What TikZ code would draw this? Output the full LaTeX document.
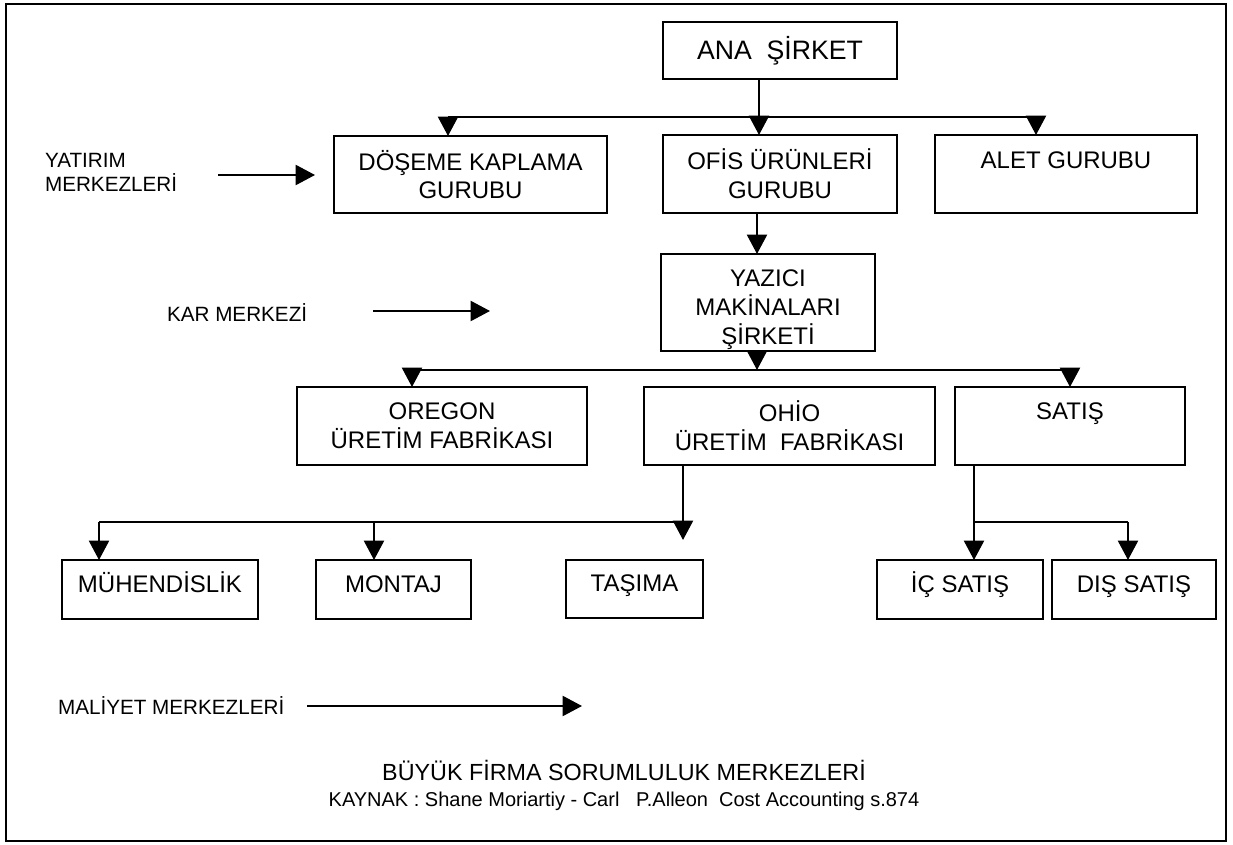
\documentclass[tikz,border=0pt]{standalone}
\usepackage{fontspec}
\setmainfont{Liberation Sans}
\usetikzlibrary{arrows.meta}
\begin{document}
\begin{tikzpicture}[x=0.75pt,y=-0.75pt,
  line width=1.6pt,
  box/.style={draw, rectangle, inner sep=0pt, outer sep=0pt, align=center,
    font=\fontsize{18}{21.5}\selectfont},
  sz/.style 2 args={minimum width=#1*0.75pt, minimum height=#2*0.75pt},
  oneline/.style={text height=13pt, text depth=9pt},
  link/.style={line width=1.6pt},
  arr/.style={link, -{Triangle[length=14.5pt,width=15pt]}},
  lbl/.style={inner sep=0pt, align=left, font=\fontsize{15.5}{18}\selectfont},
  caption/.style={inner sep=0pt, font=\fontsize{17.5}{21}\selectfont}]

\useasboundingbox (0,0) rectangle (1233,845);
% outer frame
\draw (6,4) rectangle (1226,841);

% organisation boxes
\node[box, sz={234}{57}, font=\fontsize{20}{24}\selectfont] (ana) at (780,50.5) {ANA\ \ ŞİRKET};
\node[box, sz={273}{77}] (dose) at (470.5,174.5) {DÖŞEME KAPLAMA\\GURUBU};
\node[box, sz={234}{78}] (ofis) at (780,174) {OFİS ÜRÜNLERİ\\GURUBU};
\node[box, sz={262}{78}] (alet) at (1066,174) {\rule{0pt}{19pt}ALET GURUBU\\\strut};
\node[box, sz={214}{97}] (yaz) at (768,302.5) {\rule{0pt}{23.5pt}YAZICI\\MAKİNALARI\\ŞİRKETİ};
\node[box, sz={290}{78}] (oreg) at (442,426) {OREGON\\ÜRETİM FABRİKASI};
\node[box, sz={291}{78}] (ohio) at (789.5,426) {OHİO\\ÜRETİM\ \ FABRİKASI};
\node[box, sz={230}{78}] (sat) at (1070,426) {\rule{0pt}{18.5pt}SATIŞ\\\strut};
\node[box, oneline, sz={196}{59}] (muh) at (160,589.5) {MÜHENDİSLİK};
\node[box, oneline, sz={155}{59}] (mon) at (393.5,589.5) {MONTAJ};
\node[box, oneline, sz={137}{58}] (tas) at (634.5,589) {TAŞIMA};
\node[box, oneline, sz={166}{59}] (ic) at (960,589.5) {İÇ SATIŞ};
\node[box, oneline, sz={164}{59}] (dis) at (1134,589.5) {DIŞ SATIŞ};

% level 1
\coordinate (t1) at (759,117);
\coordinate (t1l) at (448,117);
\coordinate (t1r) at (1036,117);
\draw[link] (ana.south -| t1) -- (t1);
\draw[link] (t1l) -- (t1r);
\draw[arr] (t1l) -- (t1l |- dose.north);
\draw[arr] (t1) -- (t1 |- ofis.north);
\draw[arr] (t1r) -- (t1r |- alet.north);

% office products -> printer company
\coordinate (x2) at (757,0);
\draw[arr] (ofis.south -| x2) -- (yaz.north -| x2);

% level 2
\coordinate (t2) at (757,370);
\coordinate (t2l) at (412,370);
\coordinate (t2r) at (1070,370);
\draw[arr] (yaz.south -| t2) -- (t2);
\draw[link] (t2l) -- (t2r);
\draw[arr] (t2l) -- (t2l |- oreg.north);
\draw[arr] (t2r) -- (t2r |- sat.north);

% Ohio branch
\coordinate (t3) at (683,522);
\coordinate (t3l) at (99,522);
\coordinate (t3m) at (374,522);
\coordinate (t3e) at (683,540);
\draw[arr] (ohio.south -| t3) -- (t3e);
\draw[link] (t3l) -- (t3);
\draw[arr] (t3l) -- (t3l |- muh.north);
\draw[arr] (t3m) -- (t3m |- mon.north);

% sales branch
\coordinate (t4) at (974,522);
\coordinate (t4r) at (1128,522);
\draw[link] (sat.south -| t4) -- (t4) -- (t4r);
\draw[arr] (t4) -- (t4 |- ic.north);
\draw[arr] (t4r) -- (t4r |- dis.north);

% side labels
\node[lbl, anchor=west] (yat) at (44,172) {YATIRIM\\MERKEZLERİ};
\coordinate (ya1) at (218,175);
\coordinate (ya2) at (315,175);
\draw[arr] (ya1) -- (ya2);

\node[lbl, anchor=base west] (kar) at (166,322) {KAR MERKEZİ};
\coordinate (ka1) at (373,311);
\coordinate (ka2) at (490,311);
\draw[arr] (ka1) -- (ka2);

\node[lbl, anchor=base west] (mal) at (57,714) {MALİYET MERKEZLERİ};
\coordinate (ma1) at (307,706);
\coordinate (ma2) at (582,706);
\draw[arr] (ma1) -- (ma2);

% caption
\node[caption, anchor=base] (ttl) at (624,780) {BÜYÜK FİRMA SORUMLULUK MERKEZLERİ};
\node[caption, anchor=base, font=\fontsize{15}{18}\selectfont] (src) at (624,806)
  {KAYNAK : Shane Moriartiy - Carl\ \ \ P.Alleon\ \ Cost Accounting s.874};
\end{tikzpicture}
\end{document}
